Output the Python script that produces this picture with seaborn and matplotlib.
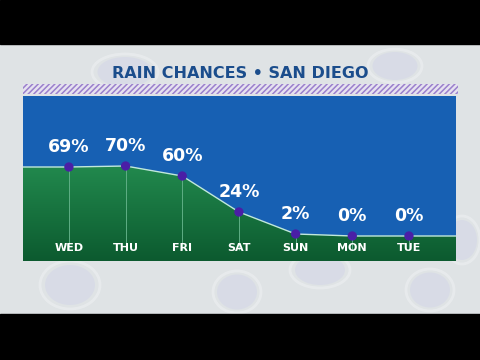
import numpy as np
import pandas as pd
import matplotlib
matplotlib.use("Agg")
import matplotlib.pyplot as plt
from matplotlib.patches import Rectangle, Ellipse, Polygon
from matplotlib.colors import LinearSegmentedColormap
import seaborn as sns

days = ["WED", "THU", "FRI", "SAT", "SUN", "MON", "TUE"]
chances = [69, 70, 60, 24, 2, 0, 0]
title = "RAIN CHANCES • SAN DIEGO"

sns.set_theme(style="white")
plt.rcParams["font.family"] = ["DejaVu Sans"]

df = pd.DataFrame({"day": days, "pos": np.arange(len(days)), "chance": chances})

fig = plt.figure(figsize=(4.8, 3.6), dpi=100)
bg = fig.add_axes([0, 0, 1, 1])
bg.set_xlim(0, 480)
bg.set_ylim(360, 0)
bg.axis("off")
bg.add_patch(Rectangle((0, 0), 480, 360, color="#dfe3e5", zorder=0))
# faint decorative drops
for (cx, cy, w, h) in [(70, 285, 50, 40), (237, 292, 40, 35), (320, 270, 50, 30),
                       (430, 290, 40, 35), (125, 72, 55, 30), (395, 66, 45, 28), (462, 240, 30, 40)]:
    bg.add_patch(Ellipse((cx, cy), w, h, color="#d0d3e8", alpha=0.45, zorder=1, lw=0))
    bg.add_patch(Ellipse((cx, cy), w * 1.2, h * 1.2, fill=False, ec="#eef0f2", lw=2, alpha=0.6, zorder=1))
bg.add_patch(Rectangle((0, 0), 480, 44, color="black", zorder=2))
bg.add_patch(Rectangle((0, 314), 480, 46, color="black", zorder=2))
plt.rcParams["hatch.linewidth"] = 1.1
bg.add_patch(Rectangle((23, 84), 435, 10, facecolor="#e6e2f0", edgecolor="#9a80cc",
                       hatch="//////", lw=0, zorder=2))
bg.text(240, 73, title, ha="center", va="center", fontsize=11.5, fontweight="bold",
        color="#1b4d8c", zorder=3)

ax = fig.add_axes([23 / 480, (360 - 261) / 360, 433 / 480, 165 / 360])
ax.set_facecolor("#1760b3")
ax.set_xlim(-0.81, 6.83)
ax.set_ylim(-25, 140)

# gradient green area under the curve
x = df["pos"].to_numpy()
y = df["chance"].to_numpy()
cmap = LinearSegmentedColormap.from_list("g", ["#0c5a2f", "#228a4e"])
grad = np.linspace(0, 1, 256).reshape(-1, 1)
im = ax.imshow(grad, extent=[-0.81, 6.83, -25, 72], origin="lower", cmap=cmap,
               aspect="auto", zorder=1)
verts = [(-0.81, -25), (-0.81, y[0])] + list(zip(x, y)) + [(6.83, y[-1]), (6.83, -25)]
poly = Polygon(verts, closed=True, transform=ax.transData, facecolor="none", edgecolor="none")
ax.add_patch(poly)
im.set_clip_path(poly)

ext = pd.DataFrame({"pos": [-0.81] + list(x) + [6.83], "chance": [y[0]] + list(y) + [y[-1]]})
sns.lineplot(data=ext, x="pos", y="chance", ax=ax, color="#c0e8dc", lw=1.0, zorder=3,
             sort=False)
for xi, yi in zip(x, y):
    ax.vlines(xi, -14, yi, color="#5fae85", lw=0.7, zorder=2)
sns.scatterplot(data=df, x="pos", y="chance", ax=ax, color="#4a1fa6", s=45,
                edgecolor="none", zorder=4)

for xi, yi in zip(x, y):
    ax.text(xi, yi + 11, f"{yi}%", ha="center", va="bottom", fontsize=12.5,
            fontweight="bold", color="white", zorder=5)
for xi, d in zip(x, days):
    ax.text(xi, -12, d, ha="center", va="center", fontsize=8, fontweight="bold",
            color="white", zorder=5)

ax.set_xlabel("")
ax.set_ylabel("")
ax.set_xticks([])
ax.set_yticks([])
for s in ax.spines.values():
    s.set_visible(False)
if ax.get_legend():
    ax.get_legend().remove()

fig.savefig("out.png", dpi=100)
